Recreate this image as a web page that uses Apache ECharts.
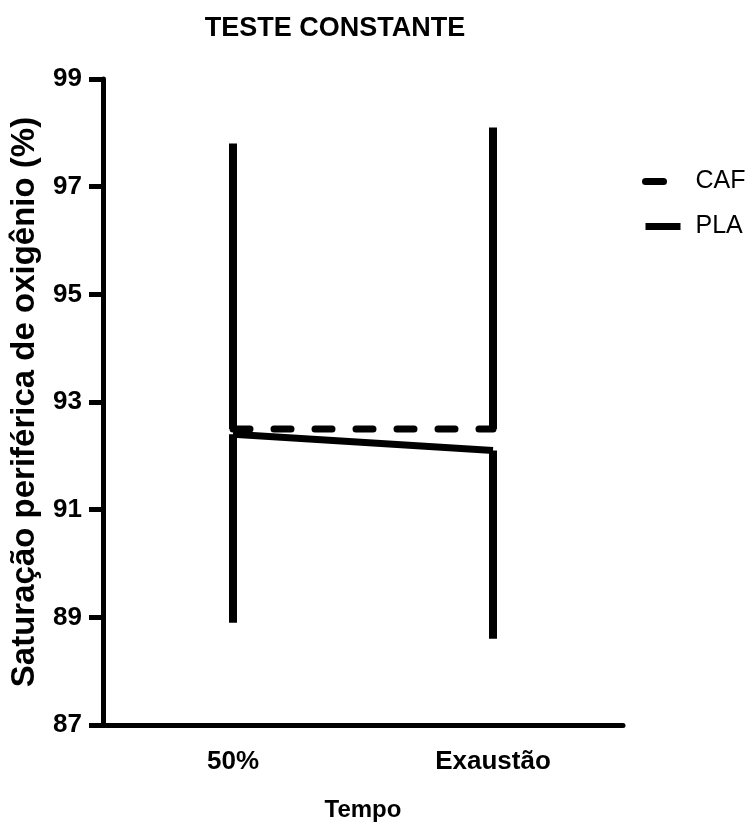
<!DOCTYPE html>
<html>
<head>
<meta charset="utf-8">
<script src="https://cdn.jsdelivr.net/npm/echarts@6/dist/echarts.min.js"></script>
<style>
html,body{margin:0;padding:0;background:#fff;}
#chart{width:751px;height:827px;}
</style>
</head>
<body>
<div id="chart"></div>
<script>
var categories = ['50%', 'Exaustão'];
var cafMean = [92.5, 92.5];
var cafSD = [5.3, 5.6];
var plaMean = [92.4, 92.1];
var plaSD = [3.5, 3.5];
var yTicks = [87, 89, 91, 93, 95, 97, 99];

var FONT = "'Liberation Sans', Arial, sans-serif";

// error bar data: [categoryIndex, mean, sd, direction]
var errData = [];
for (var i = 0; i < categories.length; i++) {
  errData.push([i, cafMean[i], cafSD[i], 1]);
  errData.push([i, plaMean[i], plaSD[i], -1]);
}

var chart = echarts.init(document.getElementById('chart'));
chart.setOption({
  backgroundColor: '#ffffff',
  animation: false,
  title: {
    text: 'TESTE CONSTANTE',
    left: 330, textAlign: 'center',
    top: 10,
    textStyle: { fontFamily: FONT, fontSize: 27, fontWeight: 'bold', color: '#000' }
  },
  legend: {
    orient: 'vertical',
    left: 637, top: 164,
    itemWidth: 35, itemHeight: 8,
    itemGap: 20,
    data: [
      { name: 'CAF', lineStyle: { type: [18, 40], cap: 'round' } },
      { name: 'PLA' }
    ],
    lineStyle: { width: 7 },
    itemStyle: { opacity: 0 },
    textStyle: { fontFamily: FONT, fontSize: 25, color: '#000', padding: [0, 0, 0, 10] }
  },
  grid: { left: 103, right: 128, top: 79, bottom: 101, containLabel: false },
  xAxis: {
    type: 'category',
    data: categories,
    boundaryGap: true,
    name: 'Tempo',
    nameLocation: 'middle',
    nameGap: 73,
    nameTextStyle: { fontFamily: FONT, fontSize: 24, fontWeight: 'bold', color: '#000' },
    axisLine: { lineStyle: { color: '#000', width: 5 } },
    axisTick: { alignWithLabel: true, length: 14, lineStyle: { color: '#000', width: 5 } },
    axisLabel: { margin: 24, fontFamily: FONT, fontSize: 26, fontWeight: 'bold', color: '#000' },
    splitLine: { show: false }
  },
  yAxis: {
    type: 'value',
    min: yTicks[0], max: yTicks[yTicks.length - 1], interval: 2,
    name: 'Saturação periférica de oxigênio (%)',
    nameLocation: 'middle',
    nameGap: 62,
    nameTextStyle: { fontFamily: FONT, fontSize: 33, fontWeight: 'bold', color: '#000' },
    axisLine: { show: true, lineStyle: { color: '#000', width: 5 } },
    axisTick: { show: true, length: 14, lineStyle: { color: '#000', width: 5 } },
    axisLabel: { margin: 21, fontFamily: FONT, fontSize: 26, fontWeight: 'bold', color: '#000' },
    splitLine: { show: false }
  },
  series: [
    {
      name: 'CAF', type: 'line', data: cafMean,
      symbol: 'none', z: 3,
      lineStyle: { color: '#000', width: 7, type: [17, 24], cap: 'round' },
      itemStyle: { color: '#000' }
    },
    {
      name: 'PLA', type: 'line', data: plaMean,
      symbol: 'none', z: 3,
      lineStyle: { color: '#000', width: 7, type: 'solid' },
      itemStyle: { color: '#000' }
    },
    {
      name: 'errorbars', type: 'custom', data: errData, z: 2,
      encode: { x: 0, y: 1 },
      renderItem: function (params, api) {
        var idx = api.value(0), mean = api.value(1), sd = api.value(2), dir = api.value(3);
        var p0 = api.coord([idx, mean]);
        var p1 = api.coord([idx, mean + dir * sd]);
        return {
          type: 'line',
          shape: { x1: p0[0], y1: p0[1], x2: p1[0], y2: p1[1] },
          style: { stroke: '#000', lineWidth: 8, lineCap: 'butt' }
        };
      }
    }
  ]
});
</script>
</body>
</html>
